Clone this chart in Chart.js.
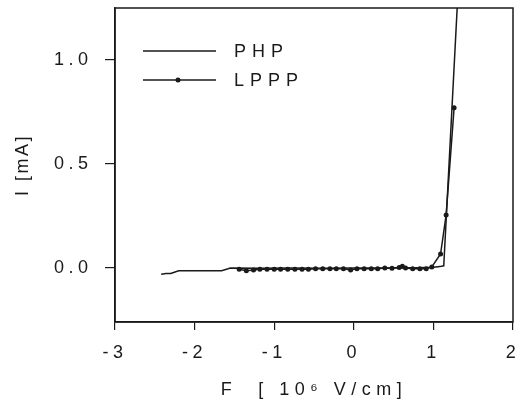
<!DOCTYPE html>
<html>
<head>
<meta charset="utf-8">
<script src="https://cdn.jsdelivr.net/npm/chart.js@4/dist/chart.umd.min.js"></script>
<style>
  html, body { margin: 0; padding: 0; background: #fff; }
  #wrap { width: 522px; height: 408px; }
</style>
</head>
<body>
<div id="wrap"><canvas id="c" width="522" height="408"></canvas></div>
<script>
// ---- data ----
const seriesNames = ["PHP", "LPPP"];
const phpX = [-2.42, -2.36, -2.30, -2.20, -2.00, -1.80, -1.66, -1.58, -1.55, -1.20, -0.80, -0.40, 0.00, 0.40, 0.80, 1.00, 1.06, 1.10, 1.13, 1.30];
const phpY = [-0.030, -0.027, -0.027, -0.014, -0.014, -0.014, -0.013, -0.004, 0.000, -0.002, 0.000, -0.001, 0.000, 0.000, 0.001, 0.003, 0.006, 0.008, 0.010, 1.26];
const lpppX = [-1.44, -1.35, -1.26, -1.18, -1.09, -1.00, -0.92, -0.83, -0.74, -0.65, -0.57, -0.48, -0.39, -0.30, -0.22, -0.13, -0.04, 0.04, 0.13, 0.22, 0.30, 0.39, 0.48, 0.57, 0.61, 0.65, 0.74, 0.83, 0.91, 0.98, 1.09, 1.16, 1.26];
const lpppY = [-0.006, -0.013, -0.010, -0.006, -0.006, -0.006, -0.006, -0.006, -0.006, -0.006, -0.006, -0.004, -0.004, -0.004, -0.004, -0.004, -0.010, -0.004, -0.004, -0.004, -0.004, 0.000, -0.002, 0.002, 0.008, 0.000, -0.004, -0.004, -0.004, 0.005, 0.067, 0.255, 0.770];
const xTicks = [-3, -2, -1, 0, 1, 2];
const yTicks = [0.0, 0.5, 1.0];
const xTitle = "F  [ 10\u2076 V/cm]";
const yTitle = "I [mA]";

const FONT = "'Liberation Sans', Arial, Helvetica, sans-serif";
const INK = "#1a1a1a";

function pts(xs, ys) { return xs.map((x, i) => ({ x: x, y: ys[i] })); }

function wrapSpacing(scale, method, spacing) {
  if (scale['_wrapped_' + method]) return;
  const orig = scale[method];
  scale[method] = function () {
    const ctx = this.ctx;
    ctx.save();
    ctx.letterSpacing = spacing;
    const r = orig.apply(this, arguments);
    ctx.restore();
    return r;
  };
  scale['_wrapped_' + method] = true;
}

const spacingPlugin = {
  id: 'spacing',
  afterLayout(chart) {
    const sx = chart.scales.x, sy = chart.scales.y;
    wrapSpacing(sx, 'drawLabels', '4.5px');
    wrapSpacing(sy, 'drawLabels', '4.5px');
    wrapSpacing(sx, 'drawTitle', '5.5px');
    wrapSpacing(sy, 'drawTitle', '2.5px');
  }
};

const framePlugin = {
  id: 'frame',
  afterDraw(chart) {
    const a = chart.chartArea, ctx = chart.ctx;
    ctx.save();
    ctx.strokeStyle = INK;
    ctx.lineWidth = 1.5;
    ctx.strokeRect(a.left, a.top, a.right - a.left, a.bottom - a.top);
    ctx.restore();
  }
};

const legendPlugin = {
  id: 'customLegend',
  afterDraw(chart) {
    const ctx = chart.ctx;
    const ds = chart.data.datasets;
    const rows = [51, 80];
    ctx.save();
    ctx.letterSpacing = '6px';
    ctx.font = "18px " + FONT;
    ctx.fillStyle = INK;
    ctx.textBaseline = 'middle';
    ds.forEach((d, i) => {
      const y = rows[i];
      ctx.strokeStyle = INK;
      ctx.lineWidth = 1.5;
      ctx.beginPath();
      ctx.moveTo(143, y);
      ctx.lineTo(216, y);
      ctx.stroke();
      if (d.pointRadius > 0) {
        ctx.beginPath();
        ctx.arc(178, y, d.pointRadius, 0, Math.PI * 2);
        ctx.fill();
      }
      ctx.fillText(d.label, 234, y + 1);
    });
    ctx.restore();
  }
};

new Chart(document.getElementById('c'), {
  type: 'line',
  data: {
    datasets: [
      {
        label: seriesNames[0],
        data: pts(phpX, phpY),
        borderColor: INK,
        borderWidth: 1.5,
        pointRadius: 0,
        tension: 0,
        fill: false
      },
      {
        label: seriesNames[1],
        data: pts(lpppX, lpppY),
        borderColor: INK,
        backgroundColor: INK,
        pointBackgroundColor: INK,
        pointBorderColor: INK,
        borderWidth: 1.5,
        pointRadius: 2.5,
        pointBorderWidth: 0,
        tension: 0,
        fill: false
      }
    ]
  },
  options: {
    responsive: false,
    animation: false,
    devicePixelRatio: 1,
    layout: { padding: { top: 8, right: 9, left: 0, bottom: 0 } },
    plugins: { legend: { display: false }, tooltip: { enabled: false } },
    scales: {
      x: {
        type: 'linear',
        min: -3, max: 2,
        afterBuildTicks(s) { s.ticks = xTicks.map(v => ({ value: v })); },
        afterFit(s) { s.height = 86; s.paddingLeft = 0; s.paddingRight = 0; },
        ticks: {
          color: INK, font: { family: FONT, size: 18 }, padding: 12,
          callback: v => String(v), maxRotation: 0
        },
        grid: { drawOnChartArea: false, drawTicks: true, tickLength: 8, color: INK, lineWidth: 1.2 },
        border: { display: true, color: INK, width: 1.5 },
        title: { display: true, text: xTitle, color: INK, font: { family: FONT, size: 18 }, padding: { top: 0, bottom: 7 } }
      },
      y: {
        type: 'linear',
        min: -0.26, max: 1.25,
        afterBuildTicks(s) { s.ticks = yTicks.map(v => ({ value: v })); },
        afterFit(s) { s.width = 115; s.paddingTop = 0; s.paddingBottom = 0; },
        ticks: {
          color: INK, font: { family: FONT, size: 18 }, padding: 12.5,
          callback: v => Number(v).toFixed(1)
        },
        grid: { drawOnChartArea: false, drawTicks: true, tickLength: 10, color: INK, lineWidth: 1.2 },
        border: { display: true, color: INK, width: 1.5 },
        title: { display: true, text: yTitle, color: INK, font: { family: FONT, size: 18 }, padding: { top: 12, bottom: 0 } }
      }
    }
  },
  plugins: [spacingPlugin, framePlugin, legendPlugin]
});
</script>
</body>
</html>
